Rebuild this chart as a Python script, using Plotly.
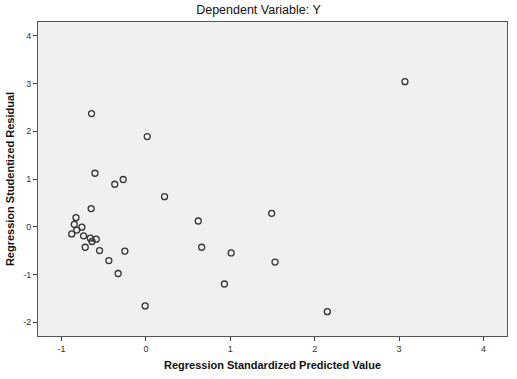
import plotly.graph_objects as go

pred = [3.07, 0.62, 1.49, 0.66, 1.01, 1.53, 0.93, 2.15,
        -0.645, 0.015, -0.605, -0.27, -0.37, 0.22, -0.65,
        -0.83, -0.85, -0.76, -0.82, -0.88, -0.74, -0.66, -0.59,
        -0.64, -0.72, -0.55, -0.25, -0.44, -0.33, -0.01]
resid = [3.04, 0.12, 0.28, -0.43, -0.55, -0.74, -1.20, -1.78,
         2.37, 1.89, 1.12, 0.99, 0.89, 0.63, 0.38,
         0.19, 0.05, -0.01, -0.07, -0.15, -0.19, -0.24, -0.26,
         -0.31, -0.43, -0.50, -0.51, -0.71, -0.98, -1.66]

x_ticks = [-1, 0, 1, 2, 3, 4]
x_tick_labels = ["-1", "0", "1", "2", "3", "4"]
y_ticks = [-2, -1, 0, 1, 2, 3, 4]
y_tick_labels = ["-2", "-1", "0", "1", "2", "3", "4"]

fig = go.Figure(go.Scatter(
    x=pred, y=resid, mode="markers",
    marker=dict(symbol="circle-open", size=6, color="#333333", line=dict(width=1.3)),
    hoverinfo="skip",
))

fig.update_layout(
    width=517, height=379,
    margin=dict(l=36, r=9, t=22, b=43),
    paper_bgcolor="white", plot_bgcolor="#f0f0f0",
    showlegend=False,
    font=dict(family="Liberation Sans, Arial, sans-serif", color="#222222"),
    title=dict(text="Dependent Variable: Y", x=0.5, xanchor="center", y=0.975, yanchor="middle",
               font=dict(size=12.5, color="#111111")),
)
fig.update_xaxes(
    range=[-1.28, 4.28], tickvals=x_ticks, ticktext=x_tick_labels,
    ticks="outside", ticklen=4, tickcolor="#444444",
    showgrid=False, zeroline=False, showline=True, linecolor="#555555", mirror=True, linewidth=1,
    tickfont=dict(size=9, color="#333333"),
    title=dict(text="<b>Regression Standardized Predicted Value</b>", font=dict(size=11, color="#111111"), standoff=8),
)
fig.update_yaxes(
    range=[-2.29, 4.29], tickvals=y_ticks, ticktext=y_tick_labels,
    ticks="outside", ticklen=4, tickcolor="#444444",
    showgrid=False, zeroline=False, showline=True, linecolor="#555555", mirror=True, linewidth=1,
    tickfont=dict(size=9, color="#333333"),
    title=dict(text="<b>Regression Studentized Residual</b>", font=dict(size=11, color="#111111"), standoff=6),
)

fig.write_html("out.html")
